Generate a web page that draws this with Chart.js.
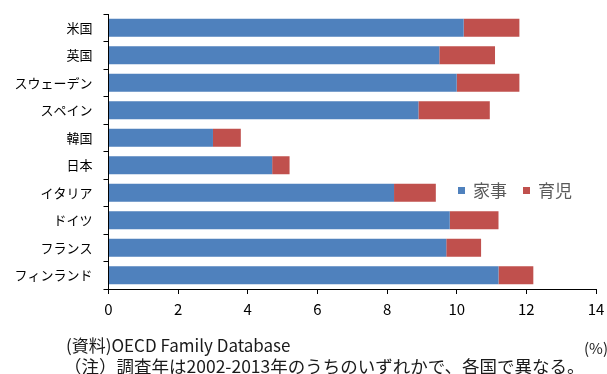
<!DOCTYPE html>
<html>
<head>
<meta charset="utf-8">
<script src="https://cdn.jsdelivr.net/npm/chart.js@4/dist/chart.umd.min.js"></script>
<style>
  html, body { margin: 0; padding: 0; background: #fff; }
  #wrap { width: 607px; height: 374px; position: relative; }
</style>
</head>
<body>
<div id="wrap"><canvas id="chart" width="607" height="374"></canvas></div>
<script>
const countries = ['米国', '英国', 'スウェーデン', 'スペイン', '韓国', '日本', 'イタリア', 'ドイツ', 'フランス', 'フィンランド'];
const housework = [10.2, 9.5, 10.0, 8.9, 3.0, 4.7, 8.2, 9.8, 9.7, 11.2];
const childcare = [1.6, 1.6, 1.8, 2.05, 0.8, 0.5, 1.2, 1.4, 1.0, 1.0];
const seriesNames = ['家事', '育児'];
const notes = ['(資料)OECD Family Database', '（注）調査年は2002-2013年のうちのいずれかで、各国で異なる。'];
const unitLabel = '(%)';

const FONT = '"Noto Sans CJK JP", "Noto Sans", sans-serif';

// legend inside the plot, right side
const legendInside = {
    id: 'legendInside',
    afterDatasetsDraw(chart) {
        const ctx = chart.ctx;
        ctx.save();
        ctx.font = '17px ' + FONT;
        ctx.textBaseline = 'middle';
        let x = 458;
        const y = 190;
        chart.data.datasets.forEach(ds => {
            ctx.fillStyle = ds.backgroundColor;
            ctx.fillRect(x, y - 3, 7, 7);
            ctx.fillStyle = '#595959';
            ctx.fillText(ds.label, x + 15, y + 1);
            x += 15 + ctx.measureText(ds.label).width + 16;
        });
        ctx.restore();
    }
};

const noteText = {
    id: 'noteText',
    afterDraw(chart) {
        const ctx = chart.ctx;
        ctx.save();
        ctx.fillStyle = '#1a1a1a';
        ctx.textBaseline = 'middle';
        ctx.font = '17px ' + FONT;
        ctx.fillText(notes[0], 66, 346);
        ctx.font = '15px ' + FONT;
        ctx.fillText(unitLabel, 584, 348);
        ctx.font = '17.5px ' + FONT;
        ctx.fillText(notes[1], 64, 366);
        ctx.restore();
    }
};

new Chart(document.getElementById('chart'), {
    type: 'bar',
    data: {
        labels: countries,
        datasets: [
            { label: seriesNames[0], data: housework, backgroundColor: '#4F81BD' },
            { label: seriesNames[1], data: childcare, backgroundColor: '#C0504D' }
        ]
    },
    options: {
        indexAxis: 'y',
        responsive: false,
        animation: false,
        barPercentage: 0.65,
        categoryPercentage: 1,
        layout: { padding: { top: 14, right: 11, left: 0, bottom: 0 } },
        plugins: {
            legend: { display: false },
            tooltip: { enabled: false }
        },
        scales: {
            x: {
                stacked: true,
                min: 0,
                max: 14,
                ticks: { stepSize: 2, color: '#000', padding: 6, font: { family: FONT, size: 15 } },
                grid: { drawOnChartArea: false, tickLength: 5, color: '#000' },
                border: { color: '#000' },
                afterFit: (scale) => { scale.height = 85; scale.paddingRight = 0; scale.paddingLeft = 0; }
            },
            y: {
                stacked: true,
                ticks: { color: '#000', padding: 11, font: { family: FONT, size: 13 } },
                grid: { drawOnChartArea: false, tickLength: 5, color: '#000' },
                border: { color: '#000' },
                afterFit: (scale) => { scale.width = 108.5; scale.paddingTop = 0; scale.paddingBottom = 0; }
            }
        }
    },
    plugins: [legendInside, noteText]
});
</script>
</body>
</html>
